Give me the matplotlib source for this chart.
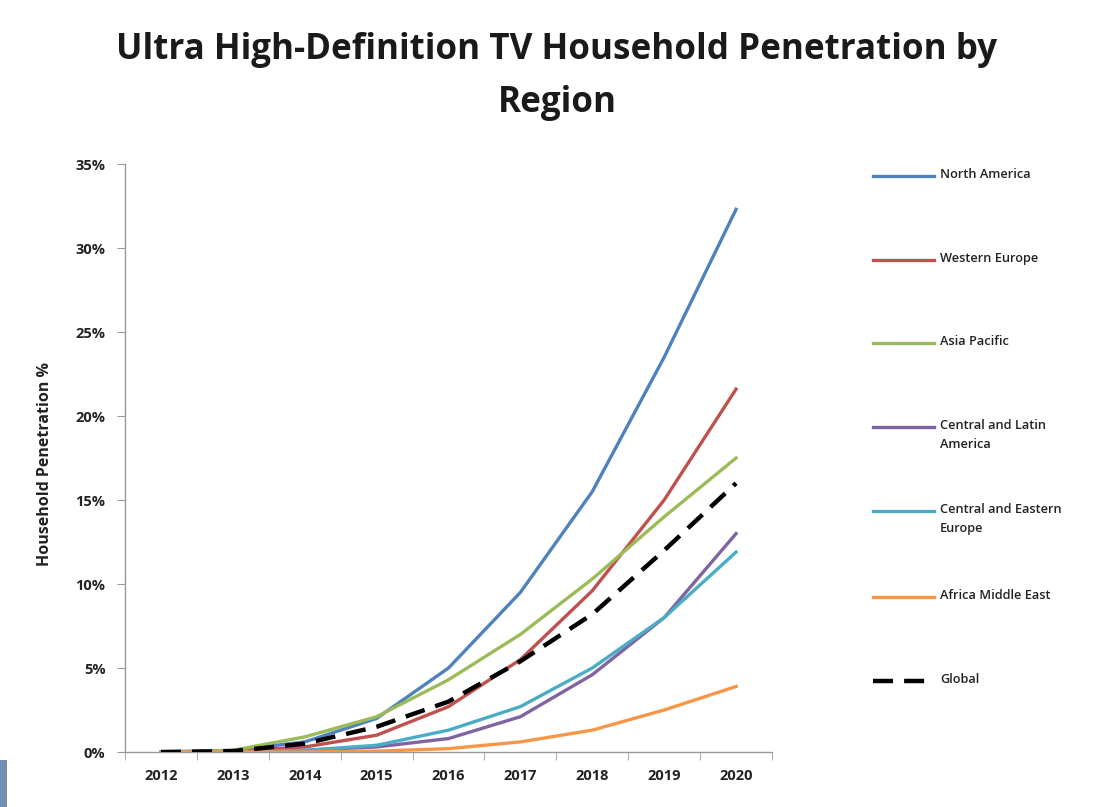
import matplotlib
matplotlib.use("Agg")
import matplotlib.pyplot as plt
from matplotlib.lines import Line2D
from matplotlib.patches import Rectangle
from matplotlib.ticker import FuncFormatter, FixedLocator

years = ["2012", "2013", "2014", "2015", "2016", "2017", "2018", "2019", "2020"]
north_america = [0.0, 0.1, 0.6, 2.0, 5.0, 9.5, 15.5, 23.5, 32.3]
western_europe = [0.0, 0.05, 0.3, 1.0, 2.7, 5.5, 9.6, 15.0, 21.6]
asia_pacific = [0.0, 0.1, 0.9, 2.1, 4.3, 7.0, 10.3, 14.0, 17.5]
central_latin_america = [0.0, 0.0, 0.1, 0.3, 0.8, 2.1, 4.6, 8.0, 13.0]
central_eastern_europe = [0.0, 0.0, 0.1, 0.4, 1.3, 2.7, 5.0, 8.0, 11.9]
africa_middle_east = [0.0, 0.0, 0.0, 0.05, 0.2, 0.6, 1.3, 2.5, 3.9]
global_avg = [0.0, 0.05, 0.5, 1.5, 3.0, 5.4, 8.2, 12.0, 16.0]

series = [
    ("North America", north_america, "#4F81BD", "-"),
    ("Western Europe", western_europe, "#C0504D", "-"),
    ("Asia Pacific", asia_pacific, "#9BBB59", "-"),
    ("Central and Latin\nAmerica", central_latin_america, "#8064A2", "-"),
    ("Central and Eastern\nEurope", central_eastern_europe, "#4BACC6", "-"),
    ("Africa Middle East", africa_middle_east, "#F79646", "-"),
    ("Global", global_avg, "#000000", "--"),
]

plt.rcParams['font.family'] = ['Open Sans', 'DejaVu Sans']

W, H = 1099, 807
fig = plt.figure(figsize=(W / 100, H / 100), dpi=100)
fig.patch.set_facecolor("white")

DASH = (0, (4.5, 2.5))

ax = fig.add_axes([125 / W, 1 - 752 / H, (772 - 125) / W, (752 - 164) / H])
x = list(range(len(years)))
for name, vals, col, ls in series:
    if ls == "--":
        ax.plot(x, vals, color=col, lw=3.2, ls=DASH, zorder=5)
    else:
        ax.plot(x, vals, color=col, lw=2.4, zorder=3)

ax.set_xlim(-0.5, len(years) - 0.5)
ax.set_ylim(0, 35)
ax.set_xticks(x)
ax.set_xticklabels(years, fontsize=10.5, fontweight="bold", color="#222222")
ax.xaxis.set_minor_locator(FixedLocator([i - 0.5 for i in range(len(years) + 1)]))
ax.tick_params(axis="x", which="major", length=0, pad=12)
ax.tick_params(axis="x", which="minor", length=6, color="#999999", direction="out")
ax.set_yticks(range(0, 36, 5))
ax.yaxis.set_major_formatter(FuncFormatter(lambda v, p: f"{int(v)}%"))
ax.tick_params(axis="y", length=6, color="#999999", labelsize=10.5, pad=8)
for lab in ax.get_yticklabels():
    lab.set_fontweight("bold")
    lab.set_color("#222222")
for s in ["top", "right"]:
    ax.spines[s].set_visible(False)
for s in ["left", "bottom"]:
    ax.spines[s].set_color("#999999")
    ax.spines[s].set_linewidth(1.0)

fig.text(45 / W, 1 - 464 / H, "Household Penetration %", rotation=90,
         ha="center", va="center", fontsize=11.5, fontweight="bold", color="#222222")

fig.text(557 / W, 1 - 50 / H, "Ultra High-Definition TV Household Penetration by",
         ha="center", va="center", fontsize=25.2, fontweight="bold", color="#1a1a1a")
fig.text(557 / W, 1 - 103 / H, "Region",
         ha="center", va="center", fontsize=25.2, fontweight="bold", color="#1a1a1a")

# legend
leg_y = [176, 260, 343, 427, 511, 597, 681]
for (name, vals, col, ls), yy in zip(series, leg_y):
    yf = 1 - yy / H
    if ls == "--":
        fig.add_artist(Line2D([873 / W, 934 / W], [yf, yf], color=col, lw=3.2, ls=DASH))
    else:
        fig.add_artist(Line2D([873 / W, 934 / W], [yf, yf], color=col, lw=2.4))
    fig.text(940 / W, yf + 8 / H, name, ha="left", va="top", fontsize=9.2,
             fontweight="semibold", color="#222222", linespacing=1.6)

fig.add_artist(Rectangle((0, 0), 7 / W, 47 / H, transform=fig.transFigure,
                         color="#6F8FAF", lw=0))

fig.savefig("out.png", dpi=100, facecolor="white")
